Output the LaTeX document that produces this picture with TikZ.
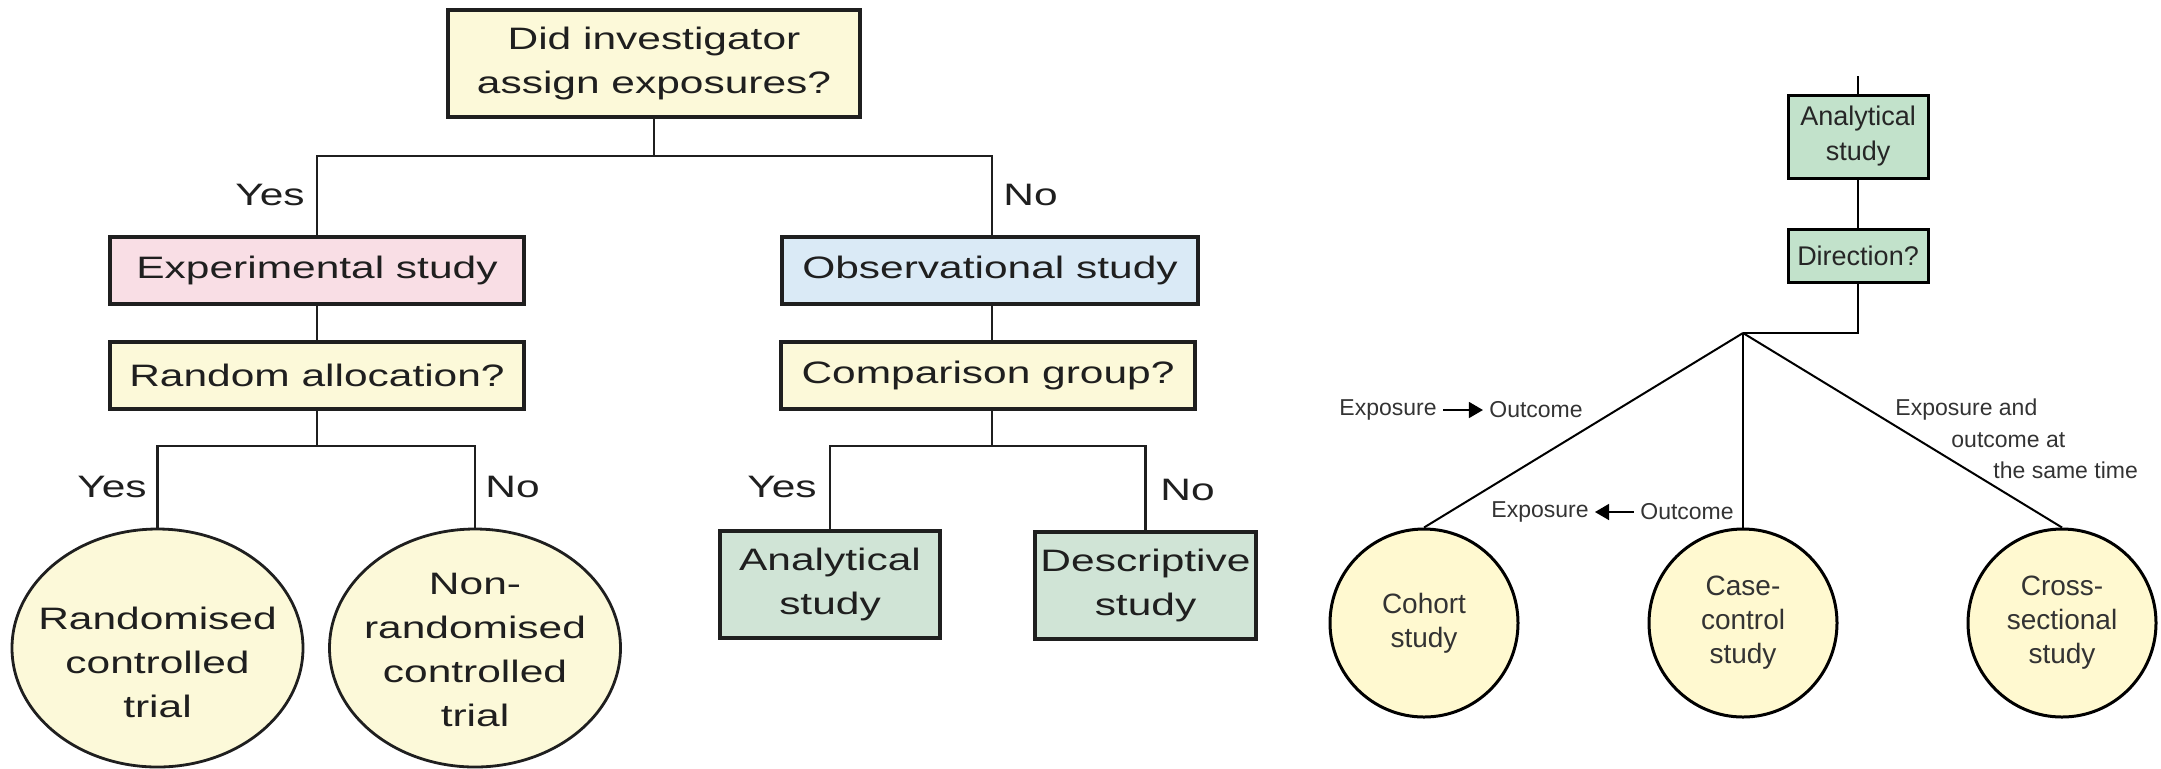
\documentclass[tikz,border=0pt]{standalone}
\usepackage{fontspec}
\setmainfont{Liberation Sans}
\newfontfamily\wideff[FakeStretch=1.37]{Liberation Sans}
\usetikzlibrary{shapes.geometric,arrows.meta}
\definecolor{cream}{HTML}{FCF9D9}
\definecolor{pinkf}{HTML}{F9DEE5}
\definecolor{bluef}{HTML}{DAEAF6}
\definecolor{greenL}{HTML}{D0E4D6}
\definecolor{greenR}{HTML}{C2E2CB}
\definecolor{yellowR}{HTML}{FFF9D0}
\definecolor{inkL}{HTML}{1F1F1F}
\definecolor{inkR}{HTML}{333333}
\begin{document}
\begin{tikzpicture}[x=0.5pt,y=-0.5pt,
 lbox/.style={draw=inkL, line width=2pt, inner sep=0pt, align=center,
   font=\wideff\fontsize{15.5}{22}\selectfont, text=inkL},
 lell/.style={ellipse, draw=inkL, line width=1.4pt, fill=cream,
   minimum width=145.5pt, minimum height=119pt, inner sep=0pt},
 ltxt/.style={font=\wideff\fontsize{15.5}{22}\selectfont, text=inkL, inner sep=0pt, align=center},
 lline/.style={draw=inkL, line width=1.3pt},
 rbox/.style={draw=black, line width=1.5pt, fill=greenR, inner sep=0pt, align=center,
   font=\fontsize{13.5}{17.5}\selectfont, text=black!85, minimum width=70pt},
 rcirc/.style={circle, draw=black, line width=1.5pt, fill=yellowR, minimum size=94pt,
   inner sep=0pt, align=center, font=\fontsize{14}{17}\selectfont, text=inkR},
 rtxt/.style={font=\fontsize{11.5}{15}\selectfont, text=inkR, inner sep=0pt},
 rline/.style={draw=black, line width=1pt},
 rarrow/.style={draw=black, line width=0.7pt, -{Triangle[length=7pt,width=8pt]}},
]
\useasboundingbox (0,0) rectangle (2161,768);

% ---------- left tree ----------
\node[lbox, fill=cream, minimum width=206pt, minimum height=53.5pt] (q1) at (654,63.5) {Did investigator\\assign exposures?};
\node[lbox, fill=pinkf, minimum width=207pt, minimum height=33.5pt] (exp) at (317,270.5) {Experimental study};
\node[lbox, fill=cream, minimum width=207pt, minimum height=33.5pt] (ra) at (317,375.5) {Random allocation?};
\node[lbox, fill=bluef, minimum width=208pt, minimum height=33.5pt] (obs) at (990,270.5) {Observational study};
\node[lbox, fill=cream, minimum width=207pt, minimum height=33.5pt] (cg) at (988,375.5) {Comparison group?};
\node[lbox, fill=greenL, minimum width=110pt, minimum height=53.5pt] (ana) at (830,584.5) {Analytical\\study};
\node[lbox, fill=greenL, minimum width=110.5pt, minimum height=53.5pt] (des) at (1145.5,585.5) {Descriptive\\study};

\node[lell] (rct) at (157.5,648) {};
\node[lell] (nrct) at (475,648) {};
\node[ltxt] (rcttxt) at (157.5,662) {Randomised\\controlled\\trial};
\node[ltxt] (nrcttxt) at (475,650) {Non-\\randomised\\controlled\\trial};

\node[ltxt, anchor=east] (y1) at (305,195) {Yes};
\node[ltxt, anchor=west] (n1) at (1003,195) {No};
\node[ltxt, anchor=east] (y2) at (147,487) {Yes};
\node[ltxt, anchor=west] (n2) at (485,487) {No};
\node[ltxt, anchor=east] (y3) at (817,487) {Yes};
\node[ltxt, anchor=west] (n3) at (1160,490) {No};

\coordinate (j1) at (654,156);
\coordinate (j2) at (317,446);
\coordinate (j3) at (992,446);
\draw[lline] (q1.south) -- (j1);
\draw[lline] (exp.north) -- (exp.north |- j1) -- (992,156) -- (992,237);
\draw[lline] (exp.south) -- (ra.north);
\draw[lline] (992,304) -- (992,342);
\draw[lline] (ra.south) -- (j2);
\draw[lline] (rct.north) -- (rct.north |- j2) -- (nrct.north |- j2) -- (nrct.north);
\draw[lline] (992,409) -- (j3);
\draw[lline] (ana.north) -- (ana.north |- j3) -- (des.north |- j3) -- (des.north);

% ---------- right tree ----------
\node[rbox, minimum height=41.5pt] (ana2) at (1858,136.5) {Analytical\\study};
\node[rbox, minimum height=26.5pt] (dir) at (1858,255.5) {Direction?};
\coordinate (top) at (1858,76);
\coordinate (apex) at (1743,333);
\node[rcirc] (coh) at (1424,623) {Cohort\\study};
\node[rcirc] (cc) at (1743,623) {Case-\\control\\study};
\node[rcirc] (cs) at (2062,623) {Cross-\\sectional\\study};

\draw[rline] (top) -- (ana2.north);
\draw[rline] (ana2.south) -- (dir.north);
\draw[rline] (dir.south) |- (apex);
\draw[rline] (apex) -- (coh.north);
\draw[rline] (apex) -- (cc.north);
\draw[rline] (apex) -- (cs.north);

\node[rtxt] (e1) at (1388,410) {Exposure};
\node[rtxt] (o1) at (1536,410) {Outcome};
\draw[rarrow] ([xshift=3pt]e1.east) -- ([xshift=-3pt]o1.west);
\node[rtxt] (e2) at (1540,512) {Exposure};
\node[rtxt] (o2) at (1687,512) {Outcome};
\draw[rarrow] ([xshift=-3pt]o2.west) -- ([xshift=3pt]e2.east);
\node[rtxt, anchor=west] (s1) at (1895,410) {Exposure and};
\node[rtxt, anchor=west] (s2) at (1951,440) {outcome at};
\node[rtxt, anchor=west] (s3) at (1993,470) {the same time};
\end{tikzpicture}
\end{document}
